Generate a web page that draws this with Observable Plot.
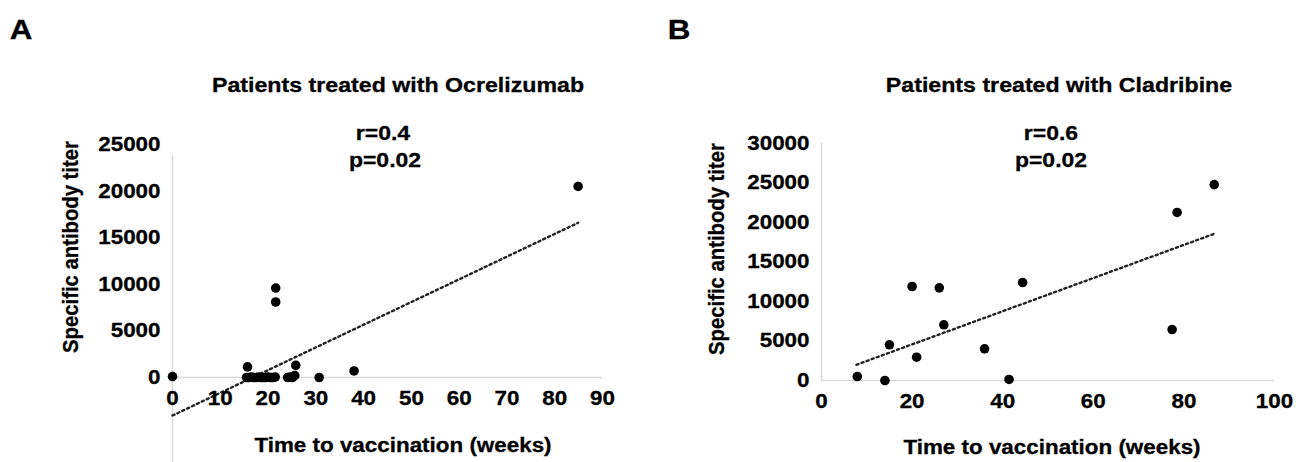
<!DOCTYPE html>
<html>
<head>
<meta charset="utf-8">
<script src="https://cdn.jsdelivr.net/npm/d3@7"></script>
<script src="https://cdn.jsdelivr.net/npm/@observablehq/plot@0.6"></script>
<style>
  html, body { margin: 0; padding: 0; background: #fff; }
  #fig { position: relative; width: 1299px; height: 462px; overflow: hidden; background: #fff;
         font-family: "Liberation Sans", Arial, sans-serif; font-weight: 700; color: #000; }
  .panel { position: absolute; top: 0; }
  .txt { position: absolute; white-space: nowrap; transform: translate(-50%, -50%) scaleX(1.12); line-height: 1;
         -webkit-text-stroke: 0.3px #000; }
  .ylab { position: absolute; white-space: nowrap; transform: translate(-50%, -50%) rotate(-90deg) scaleY(1.12); line-height: 1;
          -webkit-text-stroke: 0.3px #000; }
</style>
</head>
<body>
<div id="fig"></div>
<script>
// ---------- Data ----------
// Panel A: Ocrelizumab
const weeksA  = [0, 15.5, 15.7, 16, 16.5, 17, 17.5, 18, 18.5, 19, 19.5, 20, 20.5, 21, 21.5, 21.6, 21.6, 24.1, 24.6, 25.1, 25.6, 25.8, 30.7, 38, 84.9];
const titersA = [100, 0, 1140, 0, 50, 0, 0, 50, 0, 0, 0, 50, 0, 0, 50, 9600, 8100, 0, 50, 0, 200, 1300, 0, 700, 20500];
const trendWeeksA  = [0, 84.9];
const trendTitersA = [-4080, 16600];
const xTicksA = [0, 10, 20, 30, 40, 50, 60, 70, 80, 90];
const yTicksA = [0, 5000, 10000, 15000, 20000, 25000];

// Panel B: Cladribine
const weeksB  = [7.9, 14, 15, 20, 21, 26, 27, 36, 41.4, 44.4, 77.4, 78.5, 86.7];
const titersB = [500, 0, 4520, 11900, 2950, 11730, 7050, 4010, 130, 12400, 6450, 21270, 24800];
const trendWeeksB  = [7.7, 86.7];
const trendTitersB = [1990, 18570];
const xTicksB = [0, 20, 40, 60, 80, 100];
const yTicksB = [0, 5000, 10000, 15000, 20000, 25000, 30000];

const labels = {
  A: {letter: "A", title: "Patients treated with Ocrelizumab", r: "r=0.4", p: "p=0.02"},
  B: {letter: "B", title: "Patients treated with Cladribine", r: "r=0.6", p: "p=0.02"}
};
const yLabel = "Specific antibody titer";
const xLabel = "Time to vaccination (weeks)";

// ---------- Helpers ----------
const FONT = "'Liberation Sans', Arial, sans-serif";
const GRID = "#d9d9d9";
const STRETCH = 1.12;
const toRows = (xs, ys) => xs.map((w, i) => ({week: w, titer: ys[i]}));

function panel({width, marginLeft, marginRight, marginTop, marginBottom, xDomain, yDomain, pts, trend, xTicks, yTicks, yAxisTop, yAxisBottom}) {
  const svg = Plot.plot({
    width, height: 462,
    marginLeft, marginRight, marginTop, marginBottom,
    x: {domain: xDomain, axis: null},
    y: {domain: yDomain, axis: null},
    style: {background: "transparent", overflow: "visible"},
    marks: [
      Plot.ruleX([0], {y1: yAxisBottom, y2: yAxisTop, stroke: GRID, strokeWidth: 1.5}),
      Plot.ruleY([0], {x1: xDomain[0], x2: xDomain[1], stroke: GRID, strokeWidth: 1.5}),
      Plot.line(trend, {x: "week", y: "titer", stroke: "#222", strokeWidth: 2.4, strokeDasharray: "2.2,3.2"}),
      Plot.dot(pts, {x: "week", y: "titer", r: 4.8, fill: "#000", stroke: "none"}),
      Plot.text(yTicks, {x: 0, y: d => d, dx: -12, textAnchor: "end", text: d => String(d),
        fontFamily: FONT, fontWeight: 700, fontSize: 20, fill: "#000", stroke: "#000", strokeWidth: 0.3}),
      Plot.text(xTicks, {x: d => d, y: 0, dy: 21, text: d => String(d),
        fontFamily: FONT, fontWeight: 700, fontSize: 20, fill: "#000", stroke: "#000", strokeWidth: 0.3})
    ]
  });
  // widen the bold labels horizontally like the reference lettering
  svg.querySelectorAll("text").forEach(t => {
    const tr = t.getAttribute("transform");
    if (tr && tr.includes("translate")) {
      t.setAttribute("transform", tr + ` scale(${STRETCH},1)`);
    } else if (t.hasAttribute("x")) {
      const x = t.getAttribute("x"), y = t.getAttribute("y") || 0;
      t.removeAttribute("x"); t.removeAttribute("y");
      t.setAttribute("transform", `translate(${x},${y}) scale(${STRETCH},1)`);
    }
  });
  return svg;
}

const fig = document.getElementById("fig");

// Panel A
const svgA = panel({
  width: 650, marginLeft: 172, marginRight: 48, marginTop: 144, marginBottom: 0,
  xDomain: [0, 90], yDomain: [-9120, 25000],
  pts: toRows(weeksA, titersA), trend: toRows(trendWeeksA, trendTitersA),
  xTicks: xTicksA, yTicks: yTicksA, yAxisTop: 23800, yAxisBottom: -9120
});
const wrapA = document.createElement("div");
wrapA.className = "panel"; wrapA.style.left = "0px";
wrapA.appendChild(svgA);
fig.appendChild(wrapA);

// Panel B
const svgB = panel({
  width: 649, marginLeft: 171, marginRight: 25, marginTop: 143, marginBottom: 82,
  xDomain: [0, 100], yDomain: [0, 30000],
  pts: toRows(weeksB, titersB), trend: toRows(trendWeeksB, trendTitersB),
  xTicks: xTicksB, yTicks: yTicksB, yAxisTop: 30000, yAxisBottom: 0
});
const wrapB = document.createElement("div");
wrapB.className = "panel"; wrapB.style.left = "650px";
wrapB.appendChild(svgB);
fig.appendChild(wrapB);

// Text annotations
function addText(cls, text, x, y, size) {
  const d = document.createElement("div");
  d.className = cls;
  d.textContent = text;
  d.style.left = x + "px";
  d.style.top = y + "px";
  d.style.fontSize = size + "px";
  fig.appendChild(d);
}
// Panel A texts
addText("txt", labels.A.letter, 21, 30, 28);
addText("txt", labels.A.title, 398, 85, 20.7);
addText("txt", labels.A.r, 383, 133, 20.5);
addText("txt", labels.A.p, 385, 160, 20.5);
addText("ylab", yLabel, 70, 247, 20.3);
addText("txt", xLabel, 403, 445, 20);
// Panel B texts
addText("txt", labels.B.letter, 679, 30, 28);
addText("txt", labels.B.title, 1059, 85, 20.7);
addText("txt", labels.B.r, 1051, 133, 20.5);
addText("txt", labels.B.p, 1051, 160, 20.5);
addText("ylab", yLabel, 716, 249, 20.3);
addText("txt", xLabel, 1052, 447, 20);
</script>
</body>
</html>
